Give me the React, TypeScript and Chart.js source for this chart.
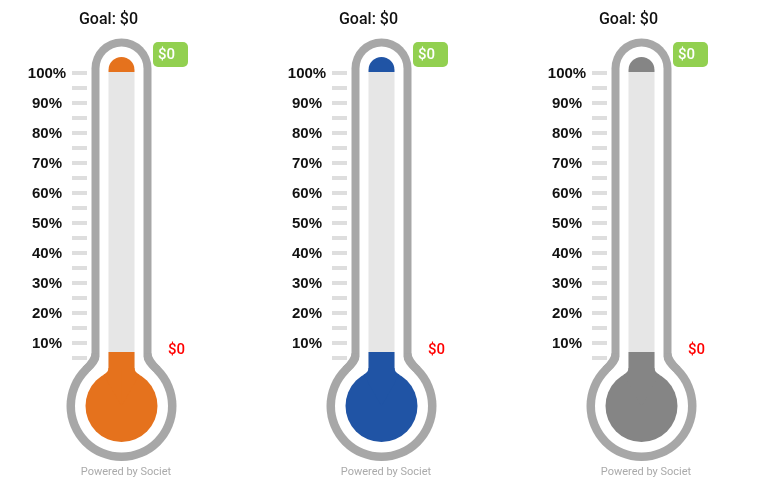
import React, { useEffect, useRef } from 'react';
import { Chart, registerables } from 'chart.js';

Chart.register(...registerables);

const thermometers = ['Campaign 1', 'Campaign 2', 'Campaign 3'];
const goalAmounts = [0, 0, 0];
const raisedAmounts = [0, 0, 0];
const fillColors = ['#e5721d', '#2054a5', '#858585'];
const majorTicks = [10, 20, 30, 40, 50, 60, 70, 80, 90, 100];
const minorTicks = [5, 15, 25, 35, 45, 55, 65, 75, 85, 95];
const footerText = 'Powered by Societ';

const money = (v: number) => '$' + v.toLocaleString('en-US');

function bodyShape(ctx: CanvasRenderingContext2D, cx: number, half: number, topCy: number, bulbCy: number, r: number, aDeg: number, k: number, roundTop = true) {
  ctx.beginPath();
  if (roundTop) ctx.arc(cx, topCy, half, Math.PI, 0);
  else { ctx.moveTo(cx - half, topCy); ctx.lineTo(cx + half, topCy); }
  ctx.lineTo(cx + half, bulbCy);
  ctx.lineTo(cx - half, bulbCy);
  ctx.closePath();
  ctx.fill();
  ctx.beginPath();
  ctx.arc(cx, bulbCy, r, 0, Math.PI * 2);
  ctx.fill();
  const a = (aDeg * Math.PI) / 180;
  const t = (r * Math.cos(a) - half) / Math.sin(a);
  for (const s of [-1, 1]) {
    const px = cx + s * r * Math.cos(a);
    const py = bulbCy - r * Math.sin(a);
    const cy = py - t * Math.cos(a);
    ctx.beginPath();
    ctx.moveTo(cx + s * half, cy - k);
    ctx.quadraticCurveTo(cx + s * half, cy, px, py);
    ctx.lineTo(cx, bulbCy);
    ctx.lineTo(cx, cy - k);
    ctx.closePath();
    ctx.fill();
  }
}

const thermoPlugin = {
  id: 'thermo',
  afterDraw(chart: any) {
    const ctx: CanvasRenderingContext2D = chart.ctx;
    const x = chart.scales.x;
    const y = chart.scales.y;
    const y0 = y.getPixelForValue(0);
    const y100 = y.getPixelForValue(100);
    ctx.save();
    thermometers.forEach((_, i) => {
      const cx = x.getPixelForValue(i);
      const topCy = y100 - 4.5;
      const bulbCy = y0 + 33;
      // outer gray
      ctx.fillStyle = '#a7a7a7';
      bodyShape(ctx, cx, 30, topCy, bulbCy, 55, 45, 5);
      // white gap
      ctx.fillStyle = '#ffffff';
      bodyShape(ctx, cx, 22, topCy, bulbCy, 46.5, 45, 5);
      // inner tube
      ctx.fillStyle = '#e6e6e6';
      ctx.fillRect(cx - 13, y100 - 1, 26, bulbCy - (y100 - 1));
      // top cap
      ctx.fillStyle = fillColors[i];
      ctx.beginPath();
      ctx.arc(cx, y100 - 3, 13, Math.PI, 0);
      ctx.lineTo(cx + 13, y100 - 1);
      ctx.lineTo(cx - 13, y100 - 1);
      ctx.closePath();
      ctx.fill();
      // fill
      const pct = goalAmounts[i] > 0 ? (raisedAmounts[i] / goalAmounts[i]) * 100 : 0;
      const fillTop = Math.min(y.getPixelForValue(Math.min(pct, 100)), y0 - 21);
      bodyShape(ctx, cx, 13, fillTop, bulbCy, 36, 60, 4, false);
      // ticks
      ctx.fillStyle = '#dedede';
      [...majorTicks, ...minorTicks].forEach((v) => {
        const py = y.getPixelForValue(v);
        ctx.fillRect(cx - 49.5, py - 2, 15, 4);
      });
      ctx.fillStyle = '#111111';
      ctx.font = 'bold 15px "Liberation Sans", Arial';
      ctx.textAlign = 'center';
      ctx.textBaseline = 'middle';
      majorTicks.forEach((v) => {
        ctx.fillText(v + '%', cx - 74.5, y.getPixelForValue(v) + 1);
      });
      // title
      ctx.font = '500 16px Roboto';
      ctx.fillStyle = '#111111';
      ctx.fillText('Goal: ' + money(goalAmounts[i]), cx - 13, 19.5);
      // badge
      ctx.fillStyle = '#92d050';
      ctx.beginPath();
      (ctx as any).roundRect(cx + 31.5, y100 - 31, 35, 25, 5);
      ctx.fill();
      ctx.fillStyle = '#ffffff';
      ctx.font = '500 15px Roboto';
      ctx.textAlign = 'left';
      ctx.fillText(money(goalAmounts[i]), cx + 36.5, y100 - 18);
      // raised label
      ctx.fillStyle = '#ff0000';
      ctx.font = '500 15px Roboto';
      ctx.fillText(money(raisedAmounts[i]), cx + 46.5, fillTop - 1.5);
      // footer
      ctx.fillStyle = '#aaaaaa';
      ctx.font = '11px Roboto';
      ctx.textAlign = 'center';
      ctx.fillText(footerText, cx + 4.5, 472.5);
    });
    ctx.restore();
  },
};

export default function App() {
  const ref = useRef<HTMLCanvasElement>(null);
  useEffect(() => {
    if (!ref.current) return;
    const chart = new Chart(ref.current, {
      type: 'bar',
      data: {
        labels: thermometers,
        datasets: [
          {
            label: 'Raised',
            data: raisedAmounts.map((r, i) => (goalAmounts[i] > 0 ? (r / goalAmounts[i]) * 100 : 0)),
            backgroundColor: 'rgba(0,0,0,0)',
          },
        ],
      },
      options: {
        animation: false,
        responsive: false,
        devicePixelRatio: 1,
        layout: { padding: { left: 121.5, right: 126.5, top: 73, bottom: 107 } },
        plugins: { legend: { display: false }, tooltip: { enabled: false } },
        scales: {
          x: { type: 'category', display: false, offset: false },
          y: { type: 'linear', display: false, min: 0, max: 100 },
        },
      },
      plugins: [thermoPlugin],
    });
    return () => chart.destroy();
  }, []);
  return (
    <div style={{ position: 'fixed', left: 0, top: 0, width: 768, height: 480, background: '#fff' }}>
      <canvas ref={ref} width={768} height={480} />
    </div>
  );
}
